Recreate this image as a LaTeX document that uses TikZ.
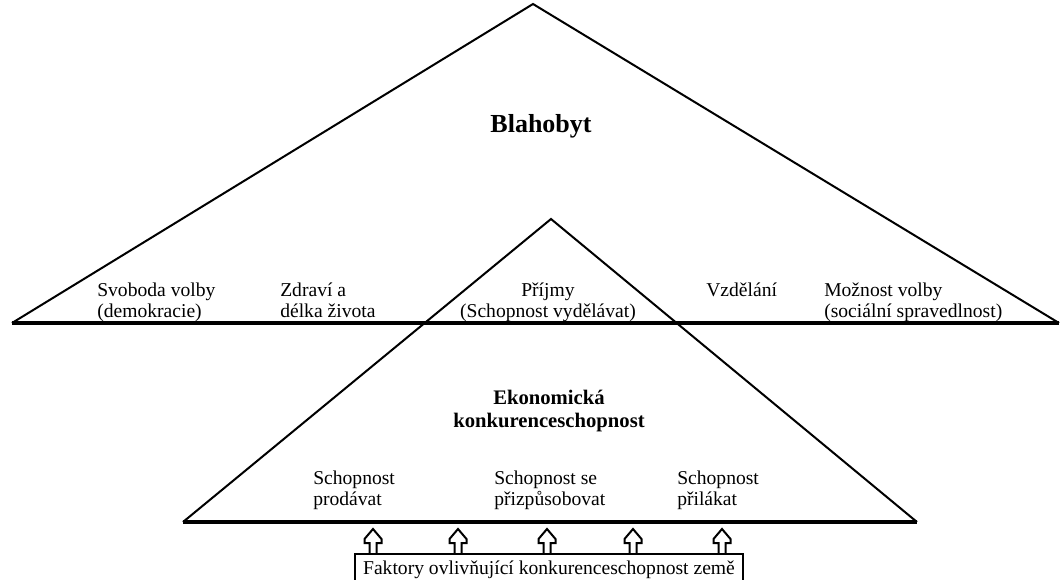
\documentclass[tikz,border=0pt]{standalone}
\usepackage{fontspec}
\setmainfont{Liberation Serif}

\begin{document}
\begin{tikzpicture}[x=0.75pt,y=-0.75pt,
    side/.style={line width=1.5pt},
    basis/.style={line width=2.3pt},
    item/.style={anchor=base west,align=left,inner sep=0pt,
      font=\fontsize{14.7}{15.75}\selectfont},
    title/.style={anchor=base,align=center,inner sep=0pt,font=\bfseries}]
    \useasboundingbox (0,0) rectangle (1061,579);
    % Blahobyt
    \coordinate (wTop) at (533,4);
    \coordinate (wLeft) at (12,323);
    \coordinate (wRight) at (1059,323);
    \draw[side] (wLeft) -- (wTop) -- (wRight);
    \draw[basis] (wLeft) -- (wRight);
    % konkurenceschopnost
    \coordinate (cTop) at (551,219);
    \coordinate (cLeft) at (183,522);
    \coordinate (cRight) at (917,522);
    \draw[side] (cLeft) -- (cTop) -- (cRight);
    \draw[basis] (cLeft) -- (cRight);

    \node[title,font=\bfseries\fontsize{19.5}{22}\selectfont] (welfare) at (541,132) {Blahobyt};
    \node[title,font=\bfseries\fontsize{15.5}{17.25}\selectfont] (compet) at (549,427)
      {Ekonomická\\konkurenceschopnost};

    \node[item] (freedom) at (97,317) {Svoboda volby\\(demokracie)};
    \node[item] (health) at (280,317) {Zdraví a\\délka života};
    \node[item,anchor=base,align=center] (income) at (548,317) {Příjmy\\(Schopnost vydělávat)};
    \node[item] (educ) at (706,296) {Vzdělání};
    \node[item] (choice) at (824,317) {Možnost volby\\(sociální spravedlnost)};

    \node[item] (sell) at (313,505) {Schopnost\\prodávat};
    \node[item] (adapt) at (494,505) {Schopnost se\\přizpůsobovat};
    \node[item] (attract) at (677,505) {Schopnost\\přilákat};

    \node[draw,line width=1.7pt,anchor=north,minimum width=291pt,minimum height=24pt,
      font=\fontsize{14.7}{15.75}\selectfont] (factors) at (549,553)
      {Faktory ovlivňující konkurenceschopnost země};

    \foreach \ax in {373,458,547,633,722}
      \draw[line width=1.5pt,line join=miter]
        (\ax-3.5,553) -- (\ax-3.5,543) -- (\ax-8.5,543) -- (\ax-8.5,539)
        -- (\ax,529) -- (\ax+8.5,539) -- (\ax+8.5,543) -- (\ax+3.5,543)
        -- (\ax+3.5,553);
\end{tikzpicture}
\end{document}
